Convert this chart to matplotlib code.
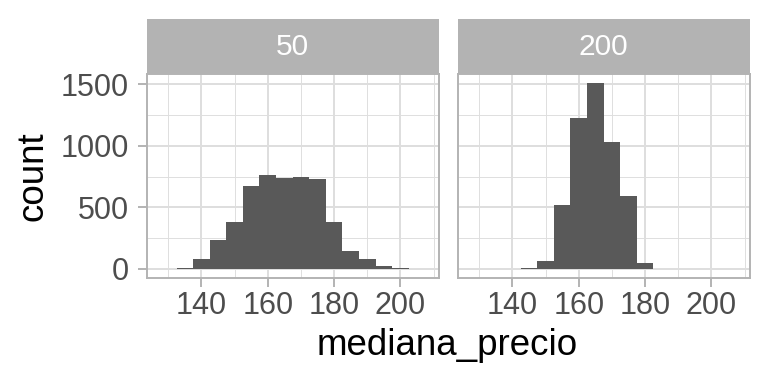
import matplotlib
matplotlib.use("Agg")
import matplotlib.pyplot as plt

plt.rcParams['font.family'] = ['Liberation Sans', 'DejaVu Sans']

# facet "50"
centros_50 = [135, 140, 145, 150, 155, 160, 165, 170, 175, 180, 185, 190, 195, 200]
conteo_50 = [10, 81, 235, 381, 673, 762, 741, 746, 730, 381, 146, 81, 24, 8]
# facet "200"
centros_200 = [145, 150, 155, 160, 165, 170, 175, 180]
conteo_200 = [8, 65, 519, 1224, 1508, 1030, 592, 49]

paneles = ['50', '200']
ancho_bin = 5
x_ticks = [140, 160, 180, 200]
x_minor = [130, 150, 170, 190, 210]
y_ticks = [0, 500, 1000, 1500]
y_minor = [250, 750, 1250]

gris70 = '#B3B3B3'
gris87 = '#DEDEDE'

fig = plt.figure(figsize=(7.68, 3.84), dpi=100)

posiciones = [0.191, 0.596]
ancho = 0.380
abajo = 0.2753
alto = 0.532
alto_strip = 0.1432

datos = [(centros_50, conteo_50), (centros_200, conteo_200)]

for i, (etiqueta, (cx, cy)) in enumerate(zip(paneles, datos)):
    ax = fig.add_axes([posiciones[i], abajo, ancho, alto])
    ax.bar(cx, cy, width=ancho_bin, color='#595959', zorder=3)
    ax.set_xlim(123.5, 211.5)
    ax.set_ylim(-75.4, 1583.4)
    ax.set_xticks(x_ticks)
    ax.set_xticks(x_minor, minor=True)
    ax.set_yticks(y_ticks)
    ax.set_yticks(y_minor, minor=True)
    ax.grid(True, which='major', color=gris87, linewidth=1.4, zorder=0)
    ax.grid(True, which='minor', color=gris87, linewidth=0.7, zorder=0)
    ax.set_axisbelow(True)
    for s in ax.spines.values():
        s.set_color(gris70)
        s.set_linewidth(1.4)
    ax.tick_params(which='major', length=6.6, width=1.4, color=gris70,
                   labelsize=22, labelcolor='#4D4D4D')
    ax.tick_params(axis='x', which='major', pad=2.5)
    ax.tick_params(axis='y', which='major', pad=6)
    ax.tick_params(which='minor', length=0)
    if i > 0:
        ax.tick_params(axis='y', which='major', labelleft=False, length=0)

    st = fig.add_axes([posiciones[i], abajo + alto, ancho, alto_strip])
    st.set_facecolor(gris70)
    st.set_xticks([])
    st.set_yticks([])
    for s in st.spines.values():
        s.set_visible(False)
    st.text(0.5, 0.5, etiqueta, ha='center', va='center', color='white',
            fontsize=21.5, transform=st.transAxes)

fig.text(0.582, 0.10, 'mediana_precio', ha='center', va='center', fontsize=26.5)
fig.text(0.043, 0.54, 'count', ha='center', va='center', rotation=90, fontsize=26.5)

fig.savefig('out.png', dpi=100)
